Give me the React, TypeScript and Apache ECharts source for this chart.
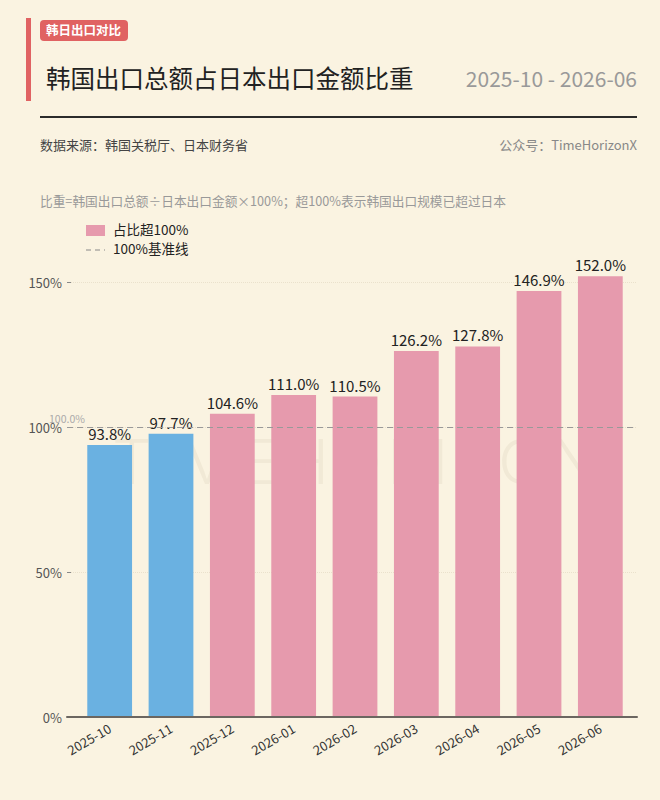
import React, { useEffect, useRef } from "react";
import * as echarts from "echarts";

const months = ["2025-10", "2025-11", "2025-12", "2026-01", "2026-02", "2026-03", "2026-04", "2026-05", "2026-06"];
const shareValues = [93.8, 97.7, 104.6, 111.0, 110.5, 126.2, 127.8, 146.9, 152.0];
const baseline = 100;
const yTicks = [0, 50, 100, 150];

const BG = "#FAF3E1";
const PINK = "#E69AAD";
const BLUE = "#6AB1E1";
const RED = "#E06262";
const FONT = "'Noto Sans CJK SC', 'Noto Sans', sans-serif";

export default function App() {
  const ref = useRef<HTMLDivElement>(null);
  useEffect(() => {
    document.body.style.margin = "0";
    const chart = echarts.init(ref.current!, null, { renderer: "svg" });
    const yMin = yTicks[0];
    const yMax = yTicks[yTicks.length - 1];
    chart.setOption({
      animation: false,
      backgroundColor: BG,
      textStyle: { fontFamily: FONT },
      grid: [
        { left: 67, right: 23, top: 282, bottom: 83 },
        { left: 79, right: 29, top: 282, bottom: 83 },
      ],
      xAxis: [
        {
          type: "category",
          gridIndex: 0,
          data: [""],
          axisLine: { lineStyle: { color: "#6b6660", width: 2 } },
          axisTick: { show: false },
          axisLabel: { show: false },
          z: 5,
        },
        {
          type: "category",
          gridIndex: 1,
          data: months,
          axisLine: { show: false },
          axisTick: { show: false },
          axisLabel: { rotate: 30, fontSize: 13, color: "#333", margin: 10, fontFamily: FONT },
        },
      ],
      yAxis: [
        {
          type: "value",
          gridIndex: 0,
          min: yMin,
          max: yMax,
          interval: 50,
          axisLine: { show: false },
          axisTick: { show: true, inside: true, length: 4, lineStyle: { color: "#888" } },
          axisLabel: { formatter: "{value}%", fontSize: 13, color: "#555", margin: 5, fontFamily: FONT },
          splitLine: { lineStyle: { color: "#EAE1CC", type: "dotted", width: 1 } },
        },
        {
          type: "value",
          gridIndex: 1,
          min: yMin,
          max: yMax,
          interval: 50,
          show: false,
          splitLine: { show: false },
        },
      ],
      graphic: [
        {
          type: "text",
          left: 112,
          top: 430,
          z: -10,
          style: {
            text: "T\u200AI\u200AM\u200AE\u200AH\u200AO\u200AR\u200AI\u200AZ\u200AO\u200AN",
            fill: "rgba(120,100,60,0.065)",
            fontSize: 62,
            fontWeight: 300,
            fontFamily: "Inter, 'Noto Sans', sans-serif",
          },
        },
        { type: "rect", left: 26, top: 18, shape: { width: 5, height: 83 }, style: { fill: RED } },
        { type: "rect", left: 40, top: 20, shape: { width: 88, height: 21, r: 4 }, style: { fill: RED } },
        { type: "text", left: 46, top: 23, style: { text: "韩日出口对比", fill: "#fff", fontSize: 12.5, fontWeight: "bold", fontFamily: FONT } },
        { type: "text", left: 46, top: 65, style: { text: "韩国出口总额占日本出口金额比重", fill: "#222", fontSize: 24.5, fontWeight: "normal", fontFamily: FONT } },
        { type: "text", right: 23, top: 67, style: { text: "2025-10 - 2026-06", fill: "#999", fontSize: 21, fontFamily: FONT } },
        { type: "rect", left: 40, top: 116, shape: { width: 597, height: 2 }, style: { fill: "#2b2b2b" } },
        { type: "text", left: 40, top: 138, style: { text: "数据来源：韩国关税厅、日本财务省", fill: "#444", fontSize: 13, fontFamily: FONT } },
        { type: "text", right: 23, top: 138, style: { text: "公众号：TimeHorizonX", fill: "#888", fontSize: 13, fontFamily: FONT } },
        { type: "text", left: 40, top: 194, style: { text: "比重=韩国出口总额÷日本出口金额×100%；超100%表示韩国出口规模已超过日本", fill: "#999", fontSize: 12.7, fontFamily: FONT } },
        { type: "rect", left: 86, top: 225, shape: { width: 19, height: 11 }, style: { fill: PINK } },
        { type: "text", left: 113, top: 222, style: { text: "占比超100%", fill: "#222", fontSize: 13.5, fontFamily: FONT } },
        { type: "line", shape: { x1: 86, y1: 250, x2: 105, y2: 250 }, style: { stroke: "#888", lineWidth: 1, lineDash: [5, 4] } },
        { type: "text", left: 113, top: 241, style: { text: "100%基准线", fill: "#222", fontSize: 13.5, fontFamily: FONT } },
      ],
      series: [
        {
          name: "100%基准线",
          type: "line",
          xAxisIndex: 0,
          yAxisIndex: 0,
          data: [],
          markLine: {
            silent: true,
            symbol: ["none", "none"],
            lineStyle: { color: "#999", type: [6, 4], width: 1 },
            label: {
              show: true,
              position: "start",
              formatter: (p: any) => Number(p.value).toFixed(1) + "%",
              color: "#aaa",
              fontSize: 10.5,
              align: "center",
              verticalAlign: "bottom",
              distance: 0,
              padding: [0, 0, 3, 0],
            },
            data: [{ yAxis: baseline }],
          },
        },
        {
          name: "占比超100%",
          type: "bar",
          xAxisIndex: 1,
          yAxisIndex: 1,
          data: shareValues,
          barWidth: "73%",
          clip: false,
          z: 2,
          itemStyle: { color: (p: any) => (p.value >= baseline ? PINK : BLUE) },
          label: {
            show: true,
            position: "top",
            distance: 4,
            fontSize: 15,
            color: "#222",
            fontFamily: FONT,
            formatter: (p: any) => Number(p.value).toFixed(1) + "%",
          },
        },
      ],
    });
    return () => chart.dispose();
  }, []);
  return <div ref={ref} style={{ width: 660, height: 800, position: "absolute", left: 0, top: 0 }} />;
}
